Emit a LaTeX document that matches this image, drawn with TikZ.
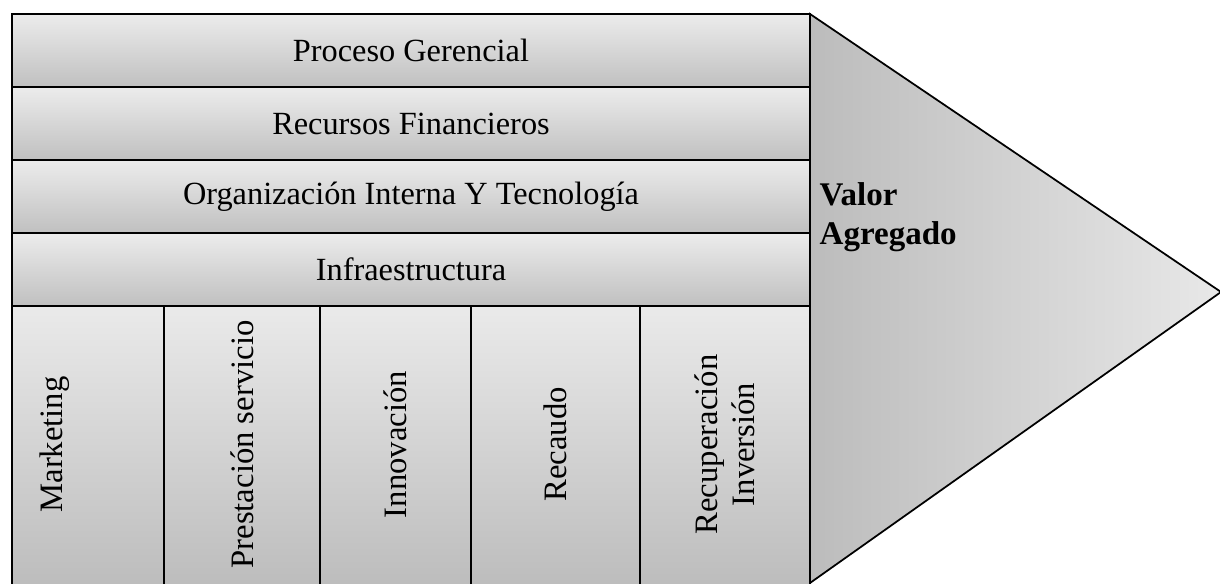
\documentclass[tikz,border=0pt]{standalone}
\usepackage{fontspec}
\setmainfont{Liberation Serif}
\usepackage{graphicx}
\usetikzlibrary{positioning, calc}

\definecolor{bandtop}{RGB}{236,236,236}
\definecolor{bandbot}{RGB}{192,192,192}
\definecolor{coltop}{RGB}{234,234,234}
\definecolor{colbot}{RGB}{186,186,186}
\definecolor{arrowleft}{RGB}{188,188,188}
\definecolor{arrowright}{RGB}{232,232,232}

\tikzset{
  band/.style={draw, line width=0.6pt, rectangle, top color=bandtop, bottom color=bandbot,
    minimum width=7.98cm, minimum height=0.73cm, inner sep=0pt, outer sep=0pt,
    font=\fontsize{9.2}{11}\selectfont},
  colbox/.style={draw, line width=0.6pt, rectangle, top color=coltop, bottom color=colbot,
    minimum height=2.95cm, inner sep=0pt, outer sep=0pt, anchor=north west},
  collabel/.style={rotate=90, align=center, font=\fontsize{9.3}{10.6}\selectfont}
}

\begin{document}
\begin{tikzpicture}[x=1cm, y=1cm]
            \useasboundingbox (0,0) rectangle (12.2,-5.84);

            % Flecha de valor (detras de las bandas)
            \coordinate (atop) at (8.10,-0.14);
            \coordinate (apex) at (12.21,-2.92);
            \coordinate (abot) at (8.10,-5.83);
            \path[draw, line width=0.5pt, left color=arrowleft, right color=arrowright]
                (atop) -- (apex) -- (abot) -- cycle;

            % Actividades de apoyo
            \node[band, anchor=north west] (pg) at (0.12,-0.14) {Proceso Gerencial};
            \node[band, below=0pt of pg] (rf) {Recursos Financieros};
            \node[band, below=0pt of rf] (oit) {Organización Interna Y Tecnología};
            \node[band, below=0pt of oit] (inf) {Infraestructura};

            % Actividades primarias
            \node[colbox, minimum width=1.52cm] (mkt) at (inf.south west) {};
            \node[colbox, minimum width=1.56cm] (pser) at (mkt.north east) {};
            \node[colbox, minimum width=1.51cm] (inno) at (pser.north east) {};
            \node[colbox, minimum width=1.69cm] (rec) at (inno.north east) {};
            \node[colbox, minimum width=1.70cm] (rinv) at (rec.north east) {};

            % Textos verticales
            \node[collabel] (tmkt) at ($(mkt.north west)!0.5!(mkt.west |- abot)+(0.43,0)$) {Marketing};
            \node[collabel] (tpser) at ($(pser.north)!0.5!(pser.north |- abot)$) {Prestación servicio};
            \node[collabel] (tinno) at ($(inno.north)!0.5!(inno.north |- abot)$) {Innovación};
            \node[collabel] (trec) at ($(rec.north)!0.5!(rec.north |- abot)$) {Recaudo};
            \node[collabel] (trinv) at ($(rinv.north)!0.5!(rinv.north |- abot)$) {Recuperación\\Inversión};

            % Valor agregado
            \node[anchor=north west, align=left, inner sep=0pt,
                  font=\bfseries\fontsize{9.4}{11.2}\selectfont] (valor) at (8.19,-1.82) {Valor\\Agregado};

\end{tikzpicture}
\end{document}
